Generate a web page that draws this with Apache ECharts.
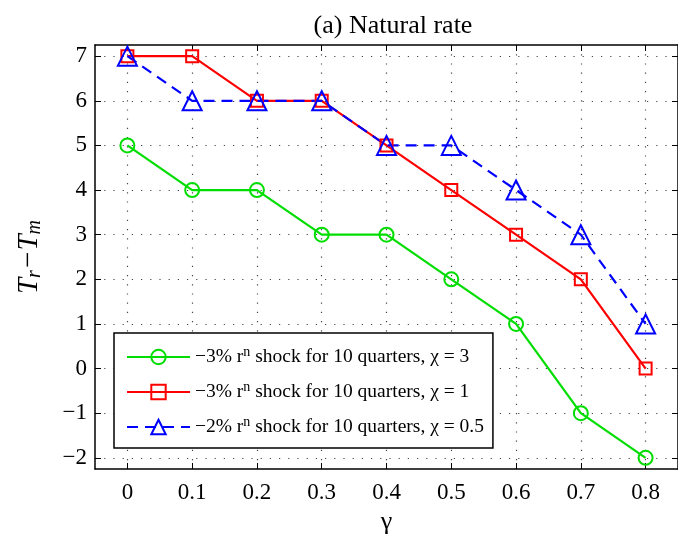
<!DOCTYPE html>
<html><head><meta charset="utf-8">
<script src="https://cdn.jsdelivr.net/npm/echarts@6/dist/echarts.min.js"></script>
<style>html,body{margin:0;padding:0;background:#fff}#c{width:678px;height:540px}</style>
</head><body><div id="c"></div>
<script>
const gammas = [0, 0.1, 0.2, 0.3, 0.4, 0.5, 0.6, 0.7, 0.8];
const xTicks = [0, 0.1, 0.2, 0.3, 0.4, 0.5, 0.6, 0.7, 0.8];
const yTicks = [-2, -1, 0, 1, 2, 3, 4, 5, 6, 7];
const chi3 = [5, 4, 4, 3, 3, 2, 1, -1, -2];
const chi1 = [7, 7, 6, 6, 5, 4, 3, 2, 0];
const chi05 = [7, 6, 6, 6, 5, 5, 4, 3, 1];
const names = [
  '\u22123% r^n shock for 10 quarters, \u03c7 = 3',
  '\u22123% r^n shock for 10 quarters, \u03c7 = 1',
  '\u22122% r^n shock for 10 quarters, \u03c7 = 0.5'
];
const FONT = 'Liberation Serif';
const pair = (ys) => gammas.map((g, i) => [g, ys[i]]);
const chart = echarts.init(document.getElementById('c'), null, {renderer: 'canvas'});
const axisCommon = {
  axisLine: {show: true, onZero: false, lineStyle: {color: '#000', width: 1.5}},
  axisTick: {show: true, inside: true, length: 6, lineStyle: {color: '#000', width: 1}},
  splitLine: {show: false}
};
const gridLine = {show: true, lineStyle: {color: '#444', width: 1.2, type: [1.2, 8]}};
function mk(name, ys, color, symbol, size, dashed) {
  return {
    name, type: 'line', data: pair(ys), symbol, symbolSize: size,
    lineStyle: {color, width: 2.2, type: dashed ? [11, 7] : 'solid'},
    itemStyle: {color: 'rgba(255,255,255,0)', borderColor: color, borderWidth: 2},
    emphasis: {disabled: true}, animation: false, z: 3
  };
}
chart.setOption({
  animation: false,
  title: {text: '(a) Natural rate', left: 388, top: 8, textAlign: 'center',
    textStyle: {fontFamily: FONT, fontSize: 26, fontWeight: 'normal', color: '#000'}},
  grid: {left: 95, top: 45, width: 587, height: 424},
  legend: {
    orient: 'vertical', left: 114, top: 333, itemWidth: 63, itemHeight: 18, itemGap: 13,
    padding: [12, 9, 11, 12], borderColor: '#000', borderWidth: 1.5, backgroundColor: '#fff',
    data: names,
    formatter: (n) => n.replace('r^n', 'r{sup|n}'),
    textStyle: {fontFamily: FONT, fontSize: 19.5, color: '#000',
      rich: {sup: {fontFamily: FONT, fontSize: 14, color: '#000', verticalAlign: 'top', padding: [0, 0, 10, 0]}}}
  },
  xAxis: [{
    type: 'value', min: -0.05, max: 0.85, position: 'bottom',
    name: '\u03b3', nameLocation: 'middle', nameGap: 40,
    nameTextStyle: {fontFamily: FONT, fontSize: 26, color: '#000'},
    ...axisCommon,
    axisTick: {...axisCommon.axisTick, customValues: xTicks},
    axisLabel: {customValues: xTicks, margin: 12, fontFamily: FONT, fontSize: 23, color: '#000',
      formatter: (v) => (v === 0 ? '0' : v.toFixed(1))},
    splitLine: gridLine
  }, {
    type: 'value', min: -0.05, max: 0.85, position: 'top',
    ...axisCommon,
    axisTick: {...axisCommon.axisTick, customValues: xTicks},
    axisLabel: {show: false}
  }],
  yAxis: [{
    type: 'value', min: -2.25, max: 7.25, position: 'left',
    name: '{i|T}{s|r}{i|\u2212T}{s|m}', nameLocation: 'middle', nameGap: 50, nameRotate: 90,
    nameTextStyle: {fontFamily: FONT, fontSize: 28, color: '#000',
      rich: {
        i: {fontFamily: FONT, fontSize: 29, fontStyle: 'italic', color: '#000'},
        s: {fontFamily: FONT, fontSize: 20, fontStyle: 'italic', color: '#000', verticalAlign: 'bottom', padding: [12, 0, 0, 0]}
      }},
    ...axisCommon,
    axisTick: {...axisCommon.axisTick, customValues: yTicks},
    axisLabel: {customValues: yTicks, margin: 8, fontFamily: FONT, fontSize: 23, color: '#000',
      formatter: (v) => String(v).replace('-', '\u2212')},
    splitLine: gridLine
  }, {
    type: 'value', min: -2.25, max: 7.25, position: 'right',
    ...axisCommon,
    axisTick: {...axisCommon.axisTick, customValues: yTicks},
    axisLabel: {show: false}
  }],
  series: [
    mk(names[0], chi3, '#00dd00', 'circle', 14, false),
    mk(names[1], chi1, '#ff0000', 'rect', 12, false),
    mk(names[2], chi05, '#0000ff', 'triangle', 19, true)
  ]
});
</script></body></html>
